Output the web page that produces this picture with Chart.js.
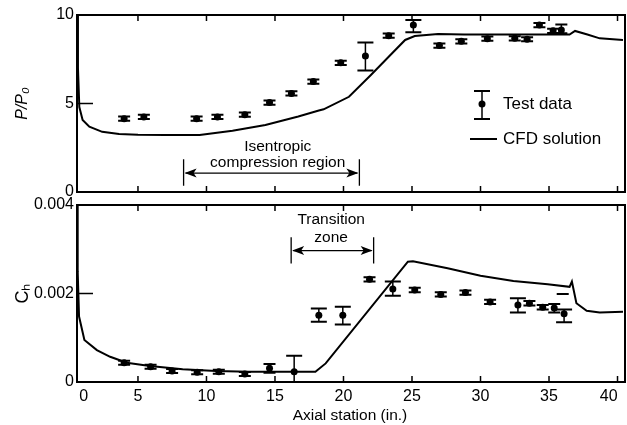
<!DOCTYPE html>
<html>
<head>
<meta charset="utf-8">
<script src="https://cdn.jsdelivr.net/npm/chart.js@4/dist/chart.umd.min.js"></script>
<style>
  html, body { margin: 0; padding: 0; background: #fff; }
  #wrap { position: relative; width: 627px; height: 425px; overflow: hidden; }
  #top { position: absolute; left: 0; top: 0; }
  #bot { position: absolute; left: 0; top: 196px; }
</style>
</head>
<body>
<div id="wrap">
  <canvas id="top" width="627" height="200"></canvas>
  <canvas id="bot" width="627" height="229"></canvas>
</div>
<script>
// axial station range shown (in.)
const X_MIN = 0.55, X_MAX = 40.4;
const xTicks = [5, 10, 15, 20, 25, 30, 35, 40];

// ---- P/P0 test data ----
const pX  = [3.99, 5.43, 9.28, 10.8, 12.8, 14.6, 16.2, 17.8, 19.8, 21.6, 23.3, 25.1, 27.0, 28.6, 30.5, 32.5, 33.4, 34.3, 35.3, 35.9];
const pY  = [4.14, 4.24, 4.14, 4.24, 4.37, 5.05, 5.57, 6.24, 7.30, 7.68, 8.83, 9.43, 8.27, 8.51, 8.66, 8.68, 8.63, 9.43, 9.11, 9.15];
const pLo = [4.02, 4.12, 4.02, 4.12, 4.25, 4.93, 5.45, 6.12, 7.18, 6.86, 8.71, 9.02, 8.15, 8.39, 8.54, 8.56, 8.51, 9.31, 8.99, 8.97];
const pHi = [4.26, 4.36, 4.26, 4.36, 4.49, 5.17, 5.69, 6.36, 7.42, 8.45, 8.95, 9.72, 8.39, 8.63, 8.78, 8.80, 8.75, 9.55, 9.23, 9.47];

// ---- P/P0 CFD ----
const cfdPX = [0.55, 0.62, 0.72, 0.96, 1.45, 2.39, 3.62, 5.0, 7.0, 9.5, 11.9, 14.3, 16.7, 18.2, 18.55, 20.4, 22.0, 23.3, 24.5, 25.2, 26.9, 28.8, 36.5, 36.9, 37.8, 38.7, 40.4];
const cfdPY = [10.0, 7.0, 4.8, 4.07, 3.69, 3.40, 3.28, 3.24, 3.22, 3.22, 3.46, 3.79, 4.27, 4.60, 4.67, 5.38, 6.61, 7.64, 8.59, 8.81, 8.93, 8.90, 8.90, 9.10, 8.90, 8.68, 8.59];

// ---- Ch test data ----
const hX  = [3.99, 5.92, 7.49, 9.32, 10.9, 12.8, 14.6, 16.4, 18.2, 19.95, 21.9, 23.6, 25.2, 27.1, 28.9, 30.7, 32.73, 33.57, 34.54, 35.38, 36.1, 36.0];
const hY  = [0.000436, 0.000346, 0.000249, 0.000219, 0.000233, 0.000181, 0.000309, 0.000233, 0.00151, 0.00151, 0.00232, 0.00210, 0.00208, 0.00198, 0.00202, 0.00181, 0.00174, 0.00178, 0.00169, 0.00167, 0.00154, 0.00199];
const hLo = [0.000391, 0.000301, 0.000204, 0.000174, 0.000188, 0.000136, 0.000211, 0.0, 0.00136, 0.00130, 0.00227, 0.00195, 0.00203, 0.00193, 0.00197, 0.00176, 0.00157, 0.00173, 0.00164, 0.00157, 0.00135, 0.00199];
const hHi = [0.000481, 0.000391, 0.000294, 0.000264, 0.000278, 0.000226, 0.000407, 0.000595, 0.00166, 0.00170, 0.00237, 0.00227, 0.00213, 0.00203, 0.00207, 0.00186, 0.00189, 0.00183, 0.00174, 0.00176, 0.00164, 0.00199];

// ---- Ch CFD ----
const cfdHX = [0.55, 0.6, 0.7, 1.09, 2.0, 2.97, 4.18, 5.87, 8.26, 10.7, 13.1, 17.95, 18.7, 24.7, 25.07, 27.6, 30.0, 32.4, 34.9, 36.5, 36.67, 37.0, 37.75, 38.7, 40.4];
const cfdHY = [0.004, 0.0025, 0.00148, 0.00095, 0.00072, 0.00057, 0.000436, 0.00036, 0.00029, 0.00025, 0.00023, 0.00023, 0.00042, 0.00272, 0.00273, 0.00257, 0.0024, 0.00228, 0.00221, 0.00215, 0.00227, 0.00178, 0.00161, 0.00157, 0.00159];

const FONT = '"Liberation Sans", Arial, sans-serif';
const BLACK = "#000";

// error bars drawn through the chart scales
const errBars = {
  id: "errbars",
  beforeDatasetsDraw(chart, args, o) {
    const { ctx, scales: { x, y } } = chart;
    ctx.save();
    ctx.strokeStyle = BLACK;
    o.xs.forEach((xv, i) => {
      const px = x.getPixelForValue(xv);
      const pl = y.getPixelForValue(o.lo[i]);
      const ph = y.getPixelForValue(o.hi[i]);
      const w = Math.abs(pl - ph) > 10 ? 8 : 6;
      ctx.lineWidth = 1.5;
      ctx.beginPath(); ctx.moveTo(px, pl); ctx.lineTo(px, ph); ctx.stroke();
      ctx.lineWidth = 2;
      ctx.beginPath();
      ctx.moveTo(px - w, pl); ctx.lineTo(px + w, pl);
      ctx.moveTo(px - w, ph); ctx.lineTo(px + w, ph);
      ctx.stroke();
    });
    ctx.restore();
  }
};

// box frame + inward ticks
const frame = {
  id: "frame",
  afterDraw(chart, args, o) {
    const { ctx, chartArea: a, scales: { x, y } } = chart;
    ctx.save();
    ctx.strokeStyle = BLACK;
    ctx.lineWidth = 2;
    ctx.strokeRect(a.left, a.top, a.right - a.left + 2, a.bottom - a.top);
    ctx.lineWidth = 1.5;
    ctx.beginPath();
    xTicks.forEach(v => {
      const px = x.getPixelForValue(v);
      ctx.moveTo(px, a.top); ctx.lineTo(px, a.top + 6);
      ctx.moveTo(px, a.bottom); ctx.lineTo(px, a.bottom - 6);
    });
    o.yTicks.forEach(v => {
      const py = y.getPixelForValue(v);
      ctx.moveTo(a.left, py); ctx.lineTo(a.left + 16, py);
    });
    ctx.stroke();
    ctx.restore();
  }
};

// text notes and dimension arrows
const notes = {
  id: "notes",
  afterDraw(chart, args, o) {
    const { ctx, scales: { x, y } } = chart;
    ctx.save();
    ctx.fillStyle = BLACK;
    ctx.strokeStyle = BLACK;
    ctx.font = "15.5px " + FONT;
    ctx.textAlign = "center";
    ctx.textBaseline = "middle";
    o.lines.forEach(t => ctx.fillText(t.text, x.getPixelForValue(t.x), y.getPixelForValue(t.y)));
    const d = o.dim;
    const x1 = x.getPixelForValue(d.x1), x2 = x.getPixelForValue(d.x2);
    const ym = y.getPixelForValue(d.y), yb = y.getPixelForValue(d.yb), yt = y.getPixelForValue(d.yt);
    ctx.lineWidth = 1.3;
    ctx.beginPath();
    ctx.moveTo(x1, yb); ctx.lineTo(x1, yt);
    ctx.moveTo(x2, yb); ctx.lineTo(x2, yt);
    ctx.moveTo(x1 + 2, ym); ctx.lineTo(x2 - 2, ym);
    ctx.stroke();
    [[x1, 1], [x2, -1]].forEach(([xx, s]) => {
      ctx.beginPath();
      ctx.moveTo(xx + s * 1, ym);
      ctx.lineTo(xx + s * 13, ym - 4.5);
      ctx.lineTo(xx + s * 10, ym);
      ctx.lineTo(xx + s * 13, ym + 4.5);
      ctx.closePath();
      ctx.fill();
    });
    ctx.restore();
  }
};

// legend with error bar glyph
const legendBox = {
  id: "legendBox",
  afterDraw(chart) {
    const ctx = chart.ctx;
    ctx.save();
    ctx.strokeStyle = BLACK; ctx.fillStyle = BLACK;
    ctx.lineWidth = 2;
    ctx.beginPath();
    ctx.moveTo(474, 91); ctx.lineTo(490, 91);
    ctx.moveTo(474, 119); ctx.lineTo(490, 119);
    ctx.stroke();
    ctx.lineWidth = 1.5;
    ctx.beginPath(); ctx.moveTo(482, 91); ctx.lineTo(482, 119); ctx.stroke();
    ctx.beginPath(); ctx.arc(482, 104, 3.5, 0, Math.PI * 2); ctx.fill();
    ctx.lineWidth = 2;
    ctx.beginPath(); ctx.moveTo(470, 139); ctx.lineTo(497, 139); ctx.stroke();
    ctx.font = "17px " + FONT;
    ctx.textAlign = "left"; ctx.textBaseline = "middle";
    ctx.fillText("Test data", 503, 104);
    ctx.fillText("CFD solution", 503, 139);
    ctx.restore();
  }
};

function pts(xs, ys) { return xs.map((x, i) => ({ x, y: ys[i] })); }

// drop the label-overflow padding so the plot box fills the canvas like the original
const noPad = s => { s.paddingLeft = 0; s.paddingRight = 0; s.paddingTop = 0; s.paddingBottom = 0; };

function baseX(showLabels) {
  const ax = {
    type: "linear", min: X_MIN, max: X_MAX,
    grid: { display: false, drawTicks: false },
    border: { display: false }
  };
  if (!showLabels) {
    ax.ticks = { display: false };
    ax.afterFit = s => { noPad(s); s.height = 0; };
  } else {
    ax.afterBuildTicks = s => { s.ticks = [X_MIN, ...xTicks].map(v => ({ value: v })); };
    // labels at the ends sit inboard, as in the printed figure
    ax.ticks = { color: BLACK, font: { family: FONT, size: 16 }, padding: 5, maxRotation: 0,
                 callback: v => (v < 1 ? "   0" : v === 40 ? "40    " : String(v)) };
    ax.title = { display: true, text: "Axial station (in.)", color: BLACK,
                 font: { family: FONT, size: 15.5 }, padding: { top: 0, bottom: 0 } };
    ax.afterFit = s => { noPad(s); s.height = 43; };
  }
  return ax;
}

// ---------- P/P0 ----------
new Chart(document.getElementById("top"), {
  type: "scatter",
  data: {
    datasets: [
      { label: "Test data", data: pts(pX, pY), pointRadius: 3.5, backgroundColor: BLACK, borderColor: BLACK, borderWidth: 0 },
      { label: "CFD solution", data: pts(cfdPX, cfdPY), showLine: true, pointRadius: 0, borderColor: BLACK, borderWidth: 2, tension: 0 }
    ]
  },
  options: {
    responsive: false, animation: false,
    layout: { padding: { top: 15, bottom: 8, left: 0, right: 0 } },
    plugins: {
      legend: { display: false }, tooltip: { enabled: false },
      errbars: { xs: pX, lo: pLo, hi: pHi },
      frame: { yTicks: [5] },
      notes: {
        lines: [{ text: "Isentropic", x: 15.2, y: 2.54 }, { text: "compression region", x: 15.2, y: 1.64 }],
        dim: { x1: 8.33, x2: 21.16, y: 1.07, yb: 0.35, yt: 1.85 }
      }
    },
    scales: {
      x: baseX(false),
      y: {
        min: 0, max: 10,
        afterFit: s => { noPad(s); s.width = 77; },
        ticks: { stepSize: 5, color: BLACK, font: { family: FONT, size: 16 }, padding: 3 },
        grid: { display: false, drawTicks: false }, border: { display: false },
        title: { display: true, text: "P/P₀", color: BLACK, font: { family: FONT, size: 16, style: "italic" }, padding: { top: 13, bottom: 0 } }
      }
    }
  },
  plugins: [errBars, frame, notes, legendBox]
});

// ---------- Ch ----------
new Chart(document.getElementById("bot"), {
  type: "scatter",
  data: {
    datasets: [
      { label: "Test data", data: pts(hX, hY), backgroundColor: BLACK, borderColor: BLACK, borderWidth: 0,
        pointRadius: c => (hLo[c.dataIndex] === hHi[c.dataIndex] ? 0 : 3.5) },
      { label: "CFD solution", data: pts(cfdHX, cfdHY), showLine: true, pointRadius: 0, borderColor: BLACK, borderWidth: 2, tension: 0 }
    ]
  },
  options: {
    responsive: false, animation: false,
    layout: { padding: { top: 9, bottom: 0, left: 0, right: 0 } },
    plugins: {
      legend: { display: false }, tooltip: { enabled: false },
      errbars: { xs: hX, lo: hLo, hi: hHi },
      frame: { yTicks: [0.002] },
      notes: {
        lines: [{ text: "Transition", x: 19.1, y: 0.00366 }, { text: "zone", x: 19.1, y: 0.00326 }],
        dim: { x1: 16.18, x2: 22.2, y: 0.00297, yb: 0.00268, yt: 0.00327 }
      }
    },
    scales: {
      x: baseX(true),
      y: {
        min: 0, max: 0.004,
        afterFit: s => { noPad(s); s.width = 77; },
        ticks: { stepSize: 0.002, color: BLACK, font: { family: FONT, size: 16 }, padding: 3,
                 callback: v => (v === 0 ? "0" : v.toFixed(3)) },
        grid: { display: false, drawTicks: false }, border: { display: false },
        title: { display: true, text: "Cₕ", color: BLACK, font: { family: FONT, size: 18 }, padding: { top: 12, bottom: 0 } }
      }
    }
  },
  plugins: [errBars, frame, notes]
});
</script>
</body>
</html>
